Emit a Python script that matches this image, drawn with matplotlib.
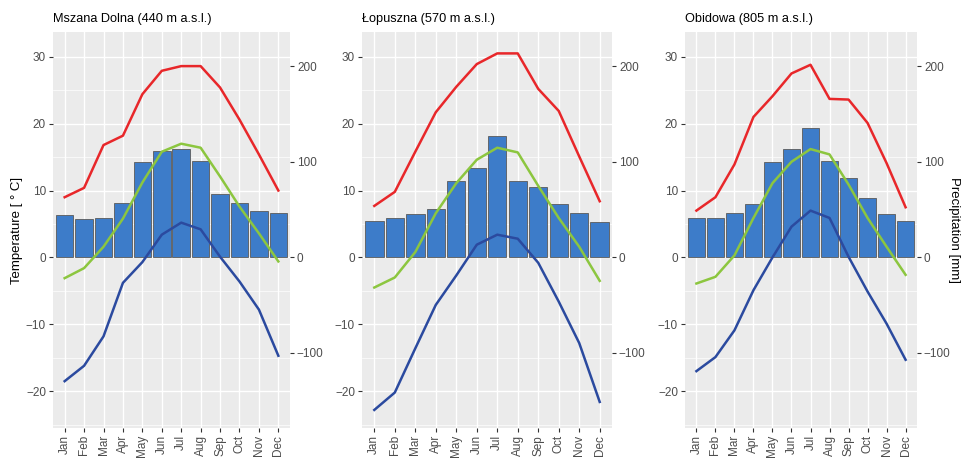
import matplotlib.pyplot as plt
import matplotlib.ticker as mticker
import numpy as np

plt.rcParams['font.family'] = ['Liberation Sans', 'DejaVu Sans']

months = ['Jan', 'Feb', 'Mar', 'Apr', 'May', 'Jun', 'Jul', 'Aug', 'Sep', 'Oct', 'Nov', 'Dec']
stations = ['Mszana Dolna (440 m a.s.l.)', 'Łopuszna (570 m a.s.l.)', 'Obidowa (805 m a.s.l.)']

# max / mean / min temperature [°C], precipitation [mm]
t_max = [
    [9.0, 10.4, 16.8, 18.2, 24.4, 27.9, 28.6, 28.6, 25.4, 20.6, 15.4, 10.0],
    [7.7, 9.8, 15.8, 21.7, 25.5, 28.9, 30.5, 30.5, 25.2, 21.9, 15.1, 8.4],
    [7.0, 9.0, 13.9, 21.0, 24.1, 27.5, 28.8, 23.7, 23.6, 20.1, 14.1, 7.5],
]
t_mean = [
    [-3.1, -1.6, 1.6, 5.8, 11.2, 15.8, 17.0, 16.4, 12.1, 7.6, 3.6, -0.6],
    [-4.5, -3.0, 0.8, 6.6, 11.1, 14.6, 16.4, 15.7, 10.7, 5.9, 1.6, -3.5],
    [-3.9, -2.9, 0.3, 5.9, 11.1, 14.3, 16.2, 15.4, 10.9, 5.9, 1.6, -2.6],
]
t_min = [
    [-18.5, -16.2, -11.8, -3.8, -0.7, 3.4, 5.2, 4.2, 0.1, -3.6, -7.8, -14.7],
    [-22.8, -20.2, -13.6, -7.1, -2.7, 1.9, 3.4, 2.8, -0.8, -6.6, -12.8, -21.6],
    [-17.0, -14.9, -10.9, -4.9, 0.0, 4.6, 7.0, 5.9, 0.1, -5.1, -9.9, -15.3],
]
precip = [
    [44, 40, 41, 57, 100, 111, 113, 101, 66, 57, 49, 46],
    [38, 41, 45, 51, 80, 94, 127, 80, 74, 56, 46, 37],
    [41, 41, 47, 56, 100, 113, 135, 101, 83, 62, 45, 38],
]

SCALE = 7  # mm per °C on the secondary axis

W, H = 962, 458
fig = plt.figure(figsize=(W / 100, H / 100), dpi=100)

# panel boxes in pixels (left, right)
boxes = [(53, 290), (362, 612), (685, 917)]
top, bottom = 32, 428

x = np.arange(len(months))
for i, (x0, x1) in enumerate(boxes):
    ax = fig.add_axes([x0 / W, 1 - bottom / H, (x1 - x0) / W, (bottom - top) / H])
    ax.set_facecolor('#EBEBEB')
    for s in ax.spines.values():
        s.set_visible(False)

    ax.set_xlim(-0.6, 11.6)
    ax.set_ylim(-25.5, 33.7)
    ax.yaxis.set_major_locator(mticker.MultipleLocator(10))
    ax.yaxis.set_minor_locator(mticker.MultipleLocator(5))
    ax.grid(which='major', color='white', lw=1.0)
    ax.grid(which='minor', axis='y', color='white', lw=0.5)
    ax.set_axisbelow(True)

    ax.bar(x, np.array(precip[i]) / SCALE, width=0.9, color='#3D7CC9',
           edgecolor='#5A5A5A', linewidth=0.6, zorder=2)
    ax.plot(x, t_max[i], color='#E8272A', lw=1.8, zorder=3)
    ax.plot(x, t_mean[i], color='#8CC63F', lw=1.8, zorder=3)
    ax.plot(x, t_min[i], color='#2B4A9F', lw=1.8, zorder=3)

    ax.set_xticks(x)
    ax.set_xticklabels(months, rotation=90)
    ax.tick_params(axis='both', which='major', length=3, color='#333333',
                   labelcolor='#4D4D4D', labelsize=8.5, pad=2)
    ax.tick_params(axis='y', which='minor', length=0)

    sec = ax.secondary_yaxis('right', functions=(lambda t: t * SCALE, lambda p: p / SCALE))
    sec.set_yticks([-100, 0, 100, 200])
    sec.spines['right'].set_visible(False)
    sec.tick_params(length=3, color='#333333', labelcolor='#4D4D4D', labelsize=8.5, pad=2)

    ax.set_title(stations[i], loc='left', fontsize=9.2, pad=7)
    if i == 0:
        ax.set_ylabel('Temperature [ ° C]', fontsize=9.5, labelpad=2)

fig.text(954 / W, 1 - 230 / H, 'Precipitation [mm]', fontsize=9.5, rotation=270,
         ha='center', va='center')

fig.savefig('out.png', dpi=100)
